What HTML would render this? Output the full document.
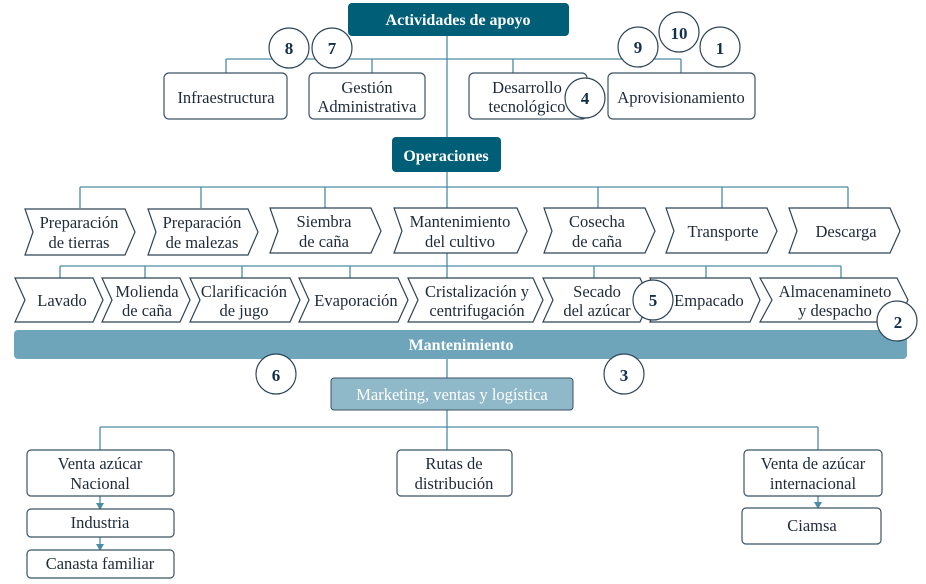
<!DOCTYPE html>
<html><head><meta charset="utf-8"><style>
html,body{margin:0;padding:0;background:#fff;}
svg{display:block;}
text{font-family:"Liberation Serif",serif;font-size:16.5px;fill:#1e2a3a;text-anchor:middle;}
.w{fill:#fff;font-weight:bold;font-size:16px;}
.n{font-weight:bold;font-size:17px;fill:#13304a;}
.ln{stroke:#4a8da3;stroke-width:1.3;fill:none;}
.bx{fill:#fff;stroke:#3b5366;stroke-width:1.2;}
.ch{fill:#fff;stroke:#2d4457;stroke-width:1.2;}
.c{fill:#fff;stroke:#2d4457;stroke-width:1.2;}
</style></head><body>
<svg width="926" height="584" viewBox="0 0 926 584" xmlns="http://www.w3.org/2000/svg">
<path class="ln" d="M447 36V137 M226 59H681 M226 59V73 M372 59V73 M513 59V73 M681 59V73"/>
<path class="ln" d="M447 172V208 M80 187H848 M80 187V208 M201 187V208 M325 187V208 M598 187V208 M722 187V208 M848 187V208"/>
<path class="ln" d="M447 253V278 M60 266H841 M60 266V278 M145 266V278 M242 266V278 M350 266V278 M594 266V278 M706 266V278 M841 266V278"/>
<path class="ln" d="M447 359V378 M447 410V450 M100 427H818 M100 427V450 M818 427V450"/>
<path class="ln" d="M100 496V506 M100 537V547 M818 496V505"/>
<path d="M96 503L100 510L104 503Z M96 544L100 551L104 544Z M814 502L818 509L822 502Z" fill="#4a8da3"/>

<rect x="348" y="3" width="221" height="33" rx="4" fill="#005e77"/>
<text x="458" y="25" class="w">Actividades de apoyo</text>
<rect class="bx" x="164" y="73" width="123" height="46" rx="5"/>
<text x="226" y="103">Infraestructura</text>
<rect class="bx" x="309" y="73" width="116" height="46" rx="5"/>
<text x="367" y="93">Gestión</text><text x="367" y="112">Administrativa</text>
<rect class="bx" x="469" y="73" width="118" height="46" rx="5"/>
<text x="527" y="93">Desarrollo</text><text x="527" y="112">tecnológico</text>
<rect class="bx" x="608" y="73" width="147" height="46" rx="5"/>
<text x="681" y="103">Aprovisionamiento</text>

<rect x="392" y="137" width="109" height="35" rx="4" fill="#005e77"/>
<text x="446" y="161" class="w">Operaciones</text>

<g class="ch">
<polygon points="25,209 125,209 135,232 125,255 25,255 33,232"/>
<polygon points="148,209 248,209 258,232 248,255 148,255 156,232"/>
<polygon points="270,208 371,208 381,231 371,253 270,253 278,231"/>
<polygon points="394,208 517,208 527,231 517,253 394,253 402,231"/>
<polygon points="544,208 645,208 655,231 645,253 544,253 552,231"/>
<polygon points="666,208 767,208 777,231 767,253 666,253 674,231"/>
<polygon points="789,208 890,208 900,231 890,253 789,253 797,231"/>
</g>
<text x="79" y="228">Preparación</text><text x="79" y="248">de tierras</text>
<text x="202" y="228">Preparación</text><text x="202" y="248">de malezas</text>
<text x="324" y="227">Siembra</text><text x="324" y="247">de caña</text>
<text x="460" y="227">Mantenimiento</text><text x="460" y="247">del cultivo</text>
<text x="597" y="227">Cosecha</text><text x="597" y="247">de caña</text>
<text x="723" y="237">Transporte</text>
<text x="846" y="237">Descarga</text>

<g class="ch">
<polygon points="15,278 93,278 103,300 93,322 15,322 25,300"/>
<polygon points="102,278 180,278 190,300 180,322 102,322 112,300"/>
<polygon points="190,278 290,278 300,300 290,322 190,322 200,300"/>
<polygon points="299,278 398,278 408,300 398,322 299,322 309,300"/>
<polygon points="408,278 533,278 543,300 533,322 408,322 418,300"/>
<polygon points="543,278 640,278 650,300 640,322 543,322 553,300"/>
<polygon points="650,278 750,278 760,300 750,322 650,322 660,300"/>
<polygon points="760,278 897,278 908,300 897,322 760,322 772,300"/>
</g>
<text x="62" y="306">Lavado</text>
<text x="147" y="297">Molienda</text><text x="147" y="316">de caña</text>
<text x="244" y="297">Clarificación</text><text x="244" y="316">de jugo</text>
<text x="356" y="306">Evaporación</text>
<text x="477" y="297">Cristalización y</text><text x="477" y="316">centrifugación</text>
<text x="597" y="297">Secado</text><text x="597" y="316">del azúcar</text>
<text x="709" y="306">Empacado</text>
<text x="835" y="297">Almacenamineto</text><text x="835" y="316">y despacho</text>

<rect x="14" y="330" width="893" height="29" rx="4" fill="#6ea5ba"/>
<text x="461" y="350" class="w">Mantenimiento</text>
<rect x="331" y="378" width="242" height="32" rx="3" fill="#8fb8c9" stroke="#3b5366" stroke-width="1"/>
<text x="452" y="400" style="fill:#fff">Marketing, ventas y logística</text>

<rect class="bx" x="27" y="450" width="147" height="46" rx="4"/>
<text x="100" y="469">Venta azúcar</text><text x="100" y="489">Nacional</text>
<rect class="bx" x="397" y="450" width="115" height="46" rx="4"/>
<text x="454" y="469">Rutas de</text><text x="454" y="489">distribución</text>
<rect class="bx" x="744" y="450" width="138" height="46" rx="4"/>
<text x="813" y="469">Venta de azúcar</text><text x="813" y="489">internacional</text>
<rect class="bx" x="27" y="509" width="147" height="28" rx="4"/>
<text x="100" y="528">Industria</text>
<rect class="bx" x="27" y="550" width="147" height="28" rx="4"/>
<text x="100" y="569">Canasta familiar</text>
<rect class="bx" x="742" y="508" width="139" height="36" rx="4"/>
<text x="812" y="531">Ciamsa</text>

<g class="c">
<circle cx="289" cy="48" r="20"/><circle cx="332" cy="48" r="20"/>
<circle cx="638" cy="47" r="20"/><circle cx="679" cy="32" r="20"/><circle cx="720" cy="47" r="20"/>
<circle cx="585" cy="98" r="20"/>
<circle cx="653" cy="300" r="20"/>
<circle cx="897" cy="321" r="20"/>
<circle cx="276" cy="374" r="20"/>
<circle cx="624" cy="374" r="20"/>
</g>
<text x="289" y="54" class="n">8</text><text x="332" y="54" class="n">7</text>
<text x="638" y="53" class="n">9</text><text x="679" y="39" class="n">10</text><text x="720" y="54" class="n">1</text>
<text x="585" y="104" class="n">4</text>
<text x="653" y="306" class="n">5</text>
<text x="898" y="328" class="n">2</text>
<text x="276" y="381" class="n">6</text>
<text x="624" y="381" class="n">3</text>
</svg>
</body></html>
